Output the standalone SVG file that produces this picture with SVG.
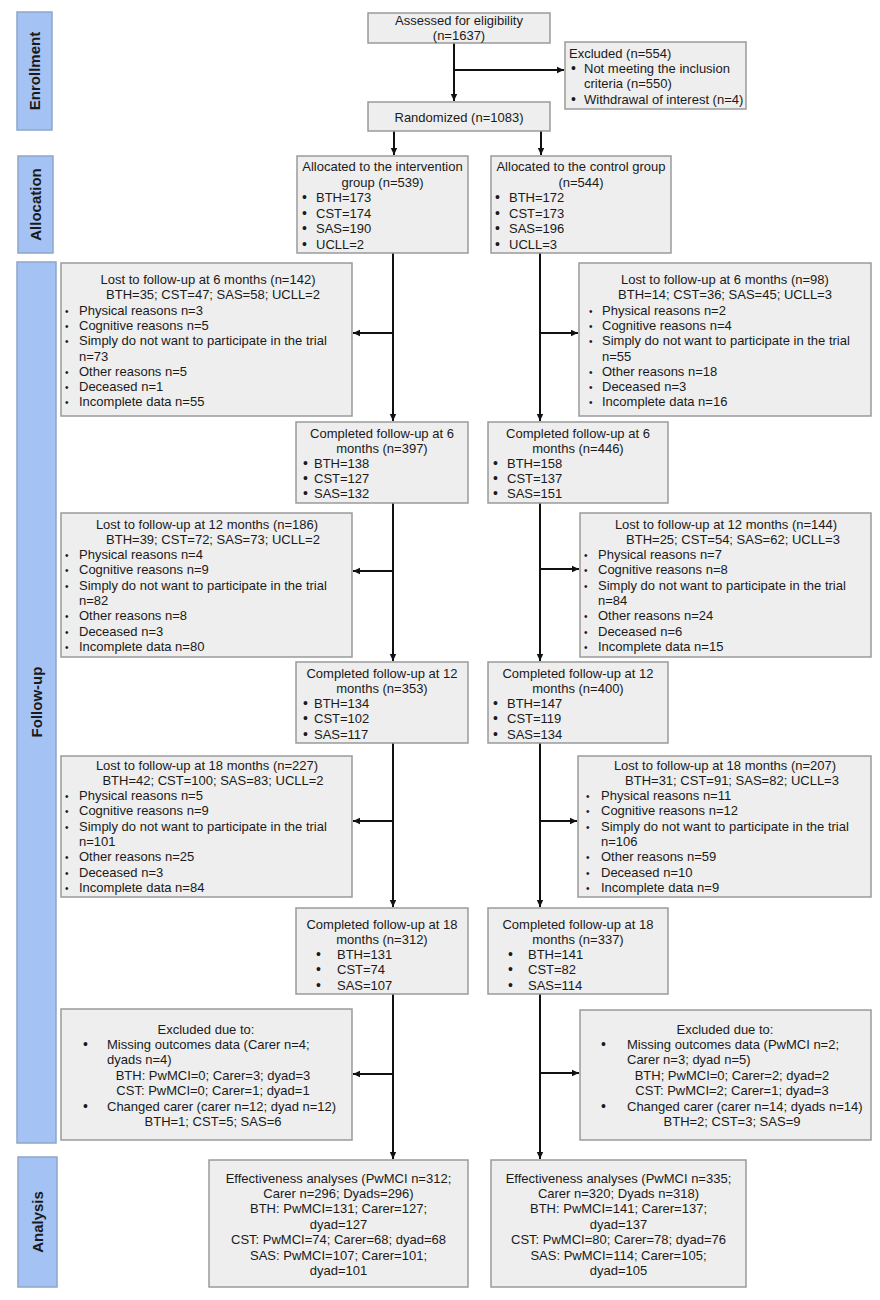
<svg xmlns="http://www.w3.org/2000/svg" width="880" height="1300" viewBox="0 0 880 1300">
<style>
text{font-family:"Liberation Sans",Arial,sans-serif;font-size:13px;fill:#1a1a1a}
.box{fill:#eeeeee;stroke:#9a9a9a;stroke-width:1.5}
.bar{fill:#a4c2f4;stroke:#8ea6c8;stroke-width:1.5}
.lbl{font-weight:bold;font-size:15px;text-anchor:middle}
.c{text-anchor:middle}
.sb{font-size:10px}
.bb{font-size:14px}
.ln{stroke:#111;stroke-width:2;fill:none}
</style>
<defs>
<marker id="ah" markerUnits="userSpaceOnUse" markerWidth="8" markerHeight="8" refX="7" refY="4" orient="auto">
<path d="M0,0.8 L7,4 L0,7.2 Z" fill="#111"/>
</marker>
</defs>
<rect width="880" height="1300" fill="#ffffff"/>

<g id="phase-enrollment"><rect class="bar" x="17" y="12" width="35" height="118"/><text class="lbl" transform="translate(40,71) rotate(-90)">Enrollment</text></g>
<g id="phase-allocation"><rect class="bar" x="18" y="156" width="35" height="97"/><text class="lbl" transform="translate(41,204.5) rotate(-90)">Allocation</text></g>
<g id="phase-followup"><rect class="bar" x="17" y="262" width="39" height="881"/><text class="lbl" transform="translate(42,702) rotate(-90)">Follow-up</text></g>
<g id="phase-analysis"><rect class="bar" x="18" y="1157" width="39" height="130"/><text class="lbl" transform="translate(43,1222) rotate(-90)">Analysis</text></g>

<g id="connectors">
<line class="ln" x1="454" y1="43" x2="454" y2="101" marker-end="url(#ah)"/>
<line class="ln" x1="454" y1="70" x2="564" y2="70" marker-end="url(#ah)"/>
<line class="ln" x1="394" y1="131" x2="394" y2="155" marker-end="url(#ah)"/>
<line class="ln" x1="541" y1="131" x2="541" y2="155" marker-end="url(#ah)"/>
<line class="ln" x1="393" y1="253" x2="393" y2="421" marker-end="url(#ah)"/>
<line class="ln" x1="393" y1="333" x2="353" y2="333" marker-end="url(#ah)"/>
<line class="ln" x1="540" y1="253" x2="540" y2="421" marker-end="url(#ah)"/>
<line class="ln" x1="540" y1="333" x2="578" y2="333" marker-end="url(#ah)"/>
<line class="ln" x1="393" y1="503" x2="393" y2="661" marker-end="url(#ah)"/>
<line class="ln" x1="393" y1="571" x2="353" y2="571" marker-end="url(#ah)"/>
<line class="ln" x1="540" y1="503" x2="540" y2="661" marker-end="url(#ah)"/>
<line class="ln" x1="540" y1="569" x2="579" y2="569" marker-end="url(#ah)"/>
<line class="ln" x1="393" y1="743" x2="393" y2="907" marker-end="url(#ah)"/>
<line class="ln" x1="393" y1="821" x2="353" y2="821" marker-end="url(#ah)"/>
<line class="ln" x1="540" y1="743" x2="540" y2="907" marker-end="url(#ah)"/>
<line class="ln" x1="540" y1="821" x2="577" y2="821" marker-end="url(#ah)"/>
<line class="ln" x1="393" y1="994" x2="393" y2="1159" marker-end="url(#ah)"/>
<line class="ln" x1="393" y1="1074" x2="353" y2="1074" marker-end="url(#ah)"/>
<line class="ln" x1="540" y1="994" x2="540" y2="1159" marker-end="url(#ah)"/>
<line class="ln" x1="540" y1="1073" x2="579" y2="1073" marker-end="url(#ah)"/>
</g>

<g id="assessed"><rect class="box" x="368" y="13" width="182" height="30"/>
<text class="c" x="459" y="25">Assessed for eligibility</text>
<text class="c" x="459" y="40">(n=1637)</text></g>

<g id="excluded"><rect class="box" x="565" y="42" width="181" height="67"/>
<text x="569" y="57.5">Excluded (n=554)</text>
<text class="bb" x="571" y="73">•</text><text x="584" y="73">Not meeting the inclusion</text>
<text x="584" y="88">criteria (n=550)</text>
<text class="bb" x="571" y="104">•</text><text x="584" y="104">Withdrawal of interest (n=4)</text></g>

<g id="randomized"><rect class="box" x="368" y="102" width="182" height="29"/>
<text class="c" x="459" y="121.5">Randomized (n=1083)</text></g>

<g id="alloc-intervention"><rect class="box" x="297" y="156" width="171" height="97"/>
<text class="c" x="382.5" y="171">Allocated to the intervention</text>
<text class="c" x="382.5" y="186.5">group (n=539)</text>
<text class="bb" x="302" y="202">•</text><text x="316" y="202">BTH=173</text>
<text class="bb" x="302" y="217.5">•</text><text x="316" y="217.5">CST=174</text>
<text class="bb" x="302" y="233">•</text><text x="316" y="233">SAS=190</text>
<text class="bb" x="302" y="248.5">•</text><text x="316" y="248.5">UCLL=2</text></g>

<g id="alloc-control"><rect class="box" x="491" y="156" width="180" height="97"/>
<text class="c" x="581" y="171">Allocated to the control group</text>
<text class="c" x="581" y="186.5">(n=544)</text>
<text class="bb" x="495" y="202">•</text><text x="509" y="202">BTH=172</text>
<text class="bb" x="495" y="217.5">•</text><text x="509" y="217.5">CST=173</text>
<text class="bb" x="495" y="233">•</text><text x="509" y="233">SAS=196</text>
<text class="bb" x="495" y="248.5">•</text><text x="509" y="248.5">UCLL=3</text></g>

<g id="lost6-int"><rect class="box" x="61" y="263" width="291" height="153"/>
<text class="c" x="208" y="284">Lost to follow-up at 6 months (n=142)</text>
<text class="c" x="213" y="299.3">BTH=35; CST=47; SAS=58; UCLL=2</text>
<text class="sb" x="65" y="314.6">•</text><text x="79" y="314.6">Physical reasons n=3</text>
<text class="sb" x="65" y="329.9">•</text><text x="79" y="329.9">Cognitive reasons n=5</text>
<text class="sb" x="65" y="345.2">•</text><text x="79" y="345.2">Simply do not want to participate in the trial</text>
<text x="79" y="360.5">n=73</text>
<text class="sb" x="65" y="375.8">•</text><text x="79" y="375.8">Other reasons n=5</text>
<text class="sb" x="65" y="391.1">•</text><text x="79" y="391.1">Deceased n=1</text>
<text class="sb" x="65" y="406.4">•</text><text x="79" y="406.4">Incomplete data n=55</text></g>

<g id="lost6-ctl"><rect class="box" x="579" y="263" width="292" height="153"/>
<text class="c" x="725" y="284">Lost to follow-up at 6 months (n=98)</text>
<text class="c" x="725" y="299.3">BTH=14; CST=36; SAS=45; UCLL=3</text>
<text class="sb" x="589" y="314.6">•</text><text x="602" y="314.6">Physical reasons n=2</text>
<text class="sb" x="589" y="329.9">•</text><text x="602" y="329.9">Cognitive reasons n=4</text>
<text class="sb" x="589" y="345.2">•</text><text x="602" y="345.2">Simply do not want to participate in the trial</text>
<text x="602" y="360.5">n=55</text>
<text class="sb" x="589" y="375.8">•</text><text x="602" y="375.8">Other reasons n=18</text>
<text class="sb" x="589" y="391.1">•</text><text x="602" y="391.1">Deceased n=3</text>
<text class="sb" x="589" y="406.4">•</text><text x="602" y="406.4">Incomplete data n=16</text></g>

<g id="comp6-int"><rect class="box" x="296" y="422" width="172" height="81"/>
<text class="c" x="382" y="437.5">Completed follow-up at 6</text>
<text class="c" x="382" y="452.5">months (n=397)</text>
<text class="bb" x="303" y="467.5">•</text><text x="314" y="467.5">BTH=138</text>
<text class="bb" x="303" y="482.5">•</text><text x="314" y="482.5">CST=127</text>
<text class="bb" x="303" y="497.5">•</text><text x="314" y="497.5">SAS=132</text></g>

<g id="comp6-ctl"><rect class="box" x="488" y="422" width="180" height="81"/>
<text class="c" x="578" y="437.5">Completed follow-up at 6</text>
<text class="c" x="578" y="452.5">months (n=446)</text>
<text class="bb" x="493" y="467.5">•</text><text x="507" y="467.5">BTH=158</text>
<text class="bb" x="493" y="482.5">•</text><text x="507" y="482.5">CST=137</text>
<text class="bb" x="493" y="497.5">•</text><text x="507" y="497.5">SAS=151</text></g>

<g id="lost12-int"><rect class="box" x="61" y="513" width="291" height="144"/>
<text class="c" x="207" y="528.5">Lost to follow-up at 12 months (n=186)</text>
<text class="c" x="213" y="543.8">BTH=39; CST=72; SAS=73; UCLL=2</text>
<text class="sb" x="65" y="559.1">•</text><text x="79" y="559.1">Physical reasons n=4</text>
<text class="sb" x="65" y="574.4">•</text><text x="79" y="574.4">Cognitive reasons n=9</text>
<text class="sb" x="65" y="589.7">•</text><text x="79" y="589.7">Simply do not want to participate in the trial</text>
<text x="79" y="605">n=82</text>
<text class="sb" x="65" y="620.3">•</text><text x="79" y="620.3">Other reasons n=8</text>
<text class="sb" x="65" y="635.6">•</text><text x="79" y="635.6">Deceased n=3</text>
<text class="sb" x="65" y="650.9">•</text><text x="79" y="650.9">Incomplete data n=80</text></g>

<g id="lost12-ctl"><rect class="box" x="580" y="513" width="291" height="144"/>
<text class="c" x="726" y="528.5">Lost to follow-up at 12 months (n=144)</text>
<text class="c" x="733" y="543.8">BTH=25; CST=54; SAS=62; UCLL=3</text>
<text class="sb" x="584" y="559.1">•</text><text x="598" y="559.1">Physical reasons n=7</text>
<text class="sb" x="584" y="574.4">•</text><text x="598" y="574.4">Cognitive reasons n=8</text>
<text class="sb" x="584" y="589.7">•</text><text x="598" y="589.7">Simply do not want to participate in the trial</text>
<text x="598" y="605">n=84</text>
<text class="sb" x="584" y="620.3">•</text><text x="598" y="620.3">Other reasons n=24</text>
<text class="sb" x="584" y="635.6">•</text><text x="598" y="635.6">Deceased n=6</text>
<text class="sb" x="584" y="650.9">•</text><text x="598" y="650.9">Incomplete data n=15</text></g>

<g id="comp12-int"><rect class="box" x="296" y="662" width="172" height="81"/>
<text class="c" x="382" y="677.5">Completed follow-up at 12</text>
<text class="c" x="382" y="692.8">months (n=353)</text>
<text class="bb" x="303" y="708.1">•</text><text x="314" y="708.1">BTH=134</text>
<text class="bb" x="303" y="723.4">•</text><text x="314" y="723.4">CST=102</text>
<text class="bb" x="303" y="738.7">•</text><text x="314" y="738.7">SAS=117</text></g>

<g id="comp12-ctl"><rect class="box" x="488" y="662" width="180" height="81"/>
<text class="c" x="578" y="677.5">Completed follow-up at 12</text>
<text class="c" x="578" y="692.8">months (n=400)</text>
<text class="bb" x="493" y="708.1">•</text><text x="507" y="708.1">BTH=147</text>
<text class="bb" x="493" y="723.4">•</text><text x="507" y="723.4">CST=119</text>
<text class="bb" x="493" y="738.7">•</text><text x="507" y="738.7">SAS=134</text></g>

<g id="lost18-int"><rect class="box" x="61" y="756" width="291" height="141"/>
<text class="c" x="207" y="769.5">Lost to follow-up at 18 months (n=227)</text>
<text class="c" x="213" y="784.8">BTH=42; CST=100; SAS=83; UCLL=2</text>
<text class="sb" x="65" y="800.1">•</text><text x="79" y="800.1">Physical reasons n=5</text>
<text class="sb" x="65" y="815.4">•</text><text x="79" y="815.4">Cognitive reasons n=9</text>
<text class="sb" x="65" y="830.7">•</text><text x="79" y="830.7">Simply do not want to participate in the trial</text>
<text x="79" y="846">n=101</text>
<text class="sb" x="65" y="861.3">•</text><text x="79" y="861.3">Other reasons n=25</text>
<text class="sb" x="65" y="876.6">•</text><text x="79" y="876.6">Deceased n=3</text>
<text class="sb" x="65" y="891.9">•</text><text x="79" y="891.9">Incomplete data n=84</text></g>

<g id="lost18-ctl"><rect class="box" x="578" y="756" width="293" height="141"/>
<text class="c" x="725" y="769.5">Lost to follow-up at 18 months (n=207)</text>
<text class="c" x="732" y="784.8">BTH=31; CST=91; SAS=82; UCLL=3</text>
<text class="sb" x="586" y="800.1">•</text><text x="601" y="800.1">Physical reasons n=11</text>
<text class="sb" x="586" y="815.4">•</text><text x="601" y="815.4">Cognitive reasons n=12</text>
<text class="sb" x="586" y="830.7">•</text><text x="601" y="830.7">Simply do not want to participate in the trial</text>
<text x="601" y="846">n=106</text>
<text class="sb" x="586" y="861.3">•</text><text x="601" y="861.3">Other reasons n=59</text>
<text class="sb" x="586" y="876.6">•</text><text x="601" y="876.6">Deceased n=10</text>
<text class="sb" x="586" y="891.9">•</text><text x="601" y="891.9">Incomplete data n=9</text></g>

<g id="comp18-int"><rect class="box" x="296" y="908" width="172" height="86"/>
<text class="c" x="382" y="928.5">Completed follow-up at 18</text>
<text class="c" x="382" y="943.8">months  (n=312)</text>
<text class="bb" x="316" y="959.1">•</text><text x="337" y="959.1">BTH=131</text>
<text class="bb" x="316" y="974.4">•</text><text x="337" y="974.4">CST=74</text>
<text class="bb" x="316" y="989.7">•</text><text x="337" y="989.7">SAS=107</text></g>

<g id="comp18-ctl"><rect class="box" x="488" y="908" width="180" height="86"/>
<text class="c" x="578" y="928.5">Completed follow-up at 18</text>
<text class="c" x="578" y="943.8">months (n=337)</text>
<text class="bb" x="508" y="959.1">•</text><text x="528" y="959.1">BTH=141</text>
<text class="bb" x="508" y="974.4">•</text><text x="528" y="974.4">CST=82</text>
<text class="bb" x="508" y="989.7">•</text><text x="528" y="989.7">SAS=114</text></g>

<g id="excl-int"><rect class="box" x="61" y="1009" width="291" height="131"/>
<text class="c" x="206" y="1033.5">Excluded due to:</text>
<text class="bb" x="83" y="1049">•</text><text x="107" y="1049">Missing outcomes data (Carer n=4;</text>
<text x="107" y="1064.4">dyads n=4)</text>
<text class="c" x="213" y="1079.8">BTH: PwMCI=0; Carer=3; dyad=3</text>
<text class="c" x="213" y="1095.2">CST: PwMCI=0; Carer=1; dyad=1</text>
<text class="bb" x="83" y="1110.6">•</text><text x="107" y="1110.6">Changed carer (carer n=12; dyad n=12)</text>
<text class="c" x="213" y="1126">BTH=1; CST=5; SAS=6</text></g>

<g id="excl-ctl"><rect class="box" x="580" y="1010" width="291" height="130"/>
<text class="c" x="725" y="1033.5">Excluded due to:</text>
<text class="bb" x="601" y="1049">•</text><text x="627" y="1049">Missing outcomes data (PwMCI n=2;</text>
<text x="627" y="1064.4">Carer n=3; dyad n=5)</text>
<text class="c" x="732" y="1079.8">BTH; PwMCI=0; Carer=2; dyad=2</text>
<text class="c" x="732" y="1095.2">CST: PwMCI=2; Carer=1; dyad=3</text>
<text class="bb" x="601" y="1110.6">•</text><text x="627" y="1110.6">Changed carer (carer n=14; dyads n=14)</text>
<text class="c" x="732" y="1126">BTH=2; CST=3; SAS=9</text></g>

<g id="eff-int"><rect class="box" x="209" y="1160" width="259" height="127"/>
<text class="c" x="338.5" y="1182.5">Effectiveness analyses (PwMCI n=312;</text>
<text class="c" x="338.5" y="1197.9">Carer n=296; Dyads=296)</text>
<text class="c" x="338.5" y="1213.3">BTH: PwMCI=131; Carer=127;</text>
<text class="c" x="338.5" y="1228.7">dyad=127</text>
<text class="c" x="338.5" y="1244.1">CST: PwMCI=74; Carer=68; dyad=68</text>
<text class="c" x="338.5" y="1259.5">SAS: PwMCI=107; Carer=101;</text>
<text class="c" x="338.5" y="1274.9">dyad=101</text></g>

<g id="eff-ctl"><rect class="box" x="491" y="1160" width="255" height="127"/>
<text class="c" x="618.5" y="1182.5">Effectiveness analyses (PwMCI n=335;</text>
<text class="c" x="618.5" y="1197.9">Carer n=320; Dyads n=318)</text>
<text class="c" x="618.5" y="1213.3">BTH: PwMCI=141; Carer=137;</text>
<text class="c" x="618.5" y="1228.7">dyad=137</text>
<text class="c" x="618.5" y="1244.1">CST: PwMCI=80; Carer=78; dyad=76</text>
<text class="c" x="618.5" y="1259.5">SAS: PwMCI=114; Carer=105;</text>
<text class="c" x="618.5" y="1274.9">dyad=105</text></g>
</svg>
